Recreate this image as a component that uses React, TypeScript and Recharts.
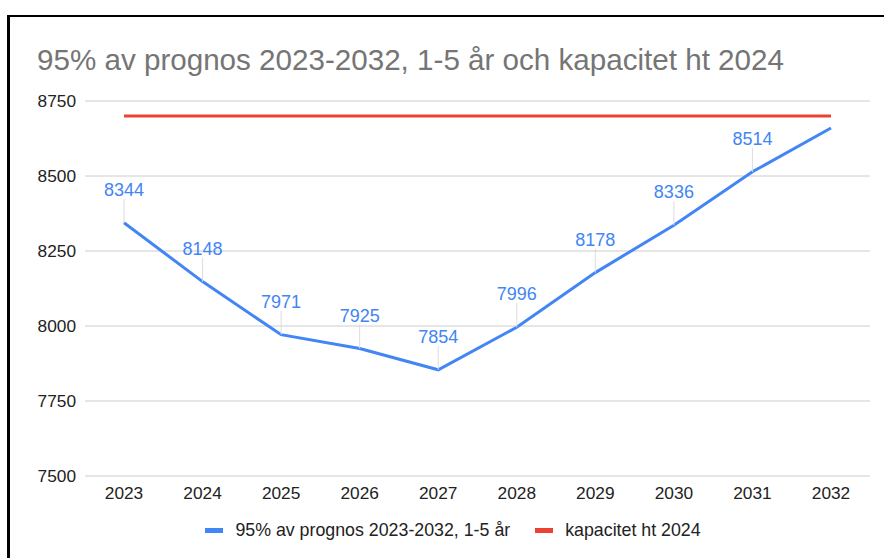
import React from 'react';
import { LineChart, Line, XAxis, YAxis, CartesianGrid, Legend } from 'recharts';

const years = ['2023', '2024', '2025', '2026', '2027', '2028', '2029', '2030', '2031', '2032'];
const prognos = [8344, 8148, 7971, 7925, 7854, 7996, 8178, 8336, 8514, 8660];
const kapacitet = [8700, 8700, 8700, 8700, 8700, 8700, 8700, 8700, 8700, 8700];
const yTicks = [7500, 7750, 8000, 8250, 8500, 8750];
const labelledPoints = 9;

const data = years.map((year, i) => ({
  year,
  prognos: prognos[i],
  kapacitet: kapacitet[i],
}));

const FONT = '"Liberation Sans", Arial, sans-serif';
const BLUE = '#4285f4';
const RED = '#ea4335';

const PointLabel = (props: any) => {
  const { x, y, value, index } = props;
  if (index >= labelledPoints) return null;
  return (
    <g>
      <line x1={x} y1={y - 24} x2={x} y2={y} stroke="#dddddd" strokeWidth={1} />
      <text
        x={x}
        y={y - 27}
        textAnchor="middle"
        fill={BLUE}
        fontSize={18}
        fontFamily={FONT}
      >
        {value}
      </text>
    </g>
  );
};

const LegendContent = () => (
  <div
    style={{
      display: 'flex',
      justifyContent: 'center',
      alignItems: 'center',
      fontFamily: FONT,
      fontSize: 17.8,
      color: '#222',
      paddingLeft: 36,
      marginTop: 14,
    }}
  >
    <span style={{ display: 'inline-block', width: 18, height: 5, background: BLUE, marginRight: 12 }} />
    <span style={{ marginRight: 25 }}>95% av prognos 2023-2032, 1-5 år</span>
    <span style={{ display: 'inline-block', width: 18, height: 5, background: RED, marginRight: 12 }} />
    <span>kapacitet ht 2024</span>
  </div>
);

export default function App() {
  return (
    <div style={{ position: 'absolute', left: 0, top: 0, width: 884, height: 558, background: '#fff', overflow: 'hidden' }}>
      <div
        style={{
          position: 'absolute',
          left: 7,
          top: 15,
          width: 900,
          height: 600,
          borderTop: '2px solid #000',
          borderLeft: '3px solid #000',
        }}
      />
      <div
        style={{
          position: 'absolute',
          left: 37,
          top: 43,
          fontFamily: FONT,
          fontSize: 29.6,
          color: '#757575',
          whiteSpace: 'nowrap',
        }}
      >
        95% av prognos 2023-2032, 1-5 år och kapacitet ht 2024
      </div>
      <div style={{ position: 'absolute', left: 0, top: 0 }}>
        <LineChart
          width={884}
          height={558}
          data={data}
          margin={{ top: 101, right: 14, bottom: 22, left: 0 }}
        >
          <CartesianGrid vertical={false} stroke="#cccccc" />
          <XAxis
            dataKey="year"
            axisLine={false}
            tickLine={false}
            tickSize={0}
            tickMargin={11}
            height={30}
            padding={{ left: 39, right: 39 }}
            tick={{ fill: '#222', fontSize: 17.3, fontFamily: FONT }}
          />
          <YAxis
            domain={[7500, 8750]}
            ticks={yTicks}
            axisLine={false}
            tickLine={false}
            tickSize={0}
            tickMargin={9}
            width={85}
            tick={{ fill: '#222', fontSize: 17.3, fontFamily: FONT }}
          />
          <Legend verticalAlign="bottom" height={30} content={<LegendContent />} />
          <Line
            dataKey="prognos"
            name="95% av prognos 2023-2032, 1-5 år"
            stroke={BLUE}
            strokeWidth={3}
            dot={false}
            isAnimationActive={false}
            label={<PointLabel />}
          />
          <Line
            dataKey="kapacitet"
            name="kapacitet ht 2024"
            stroke={RED}
            strokeWidth={3}
            dot={false}
            isAnimationActive={false}
          />
        </LineChart>
      </div>
    </div>
  );
}
